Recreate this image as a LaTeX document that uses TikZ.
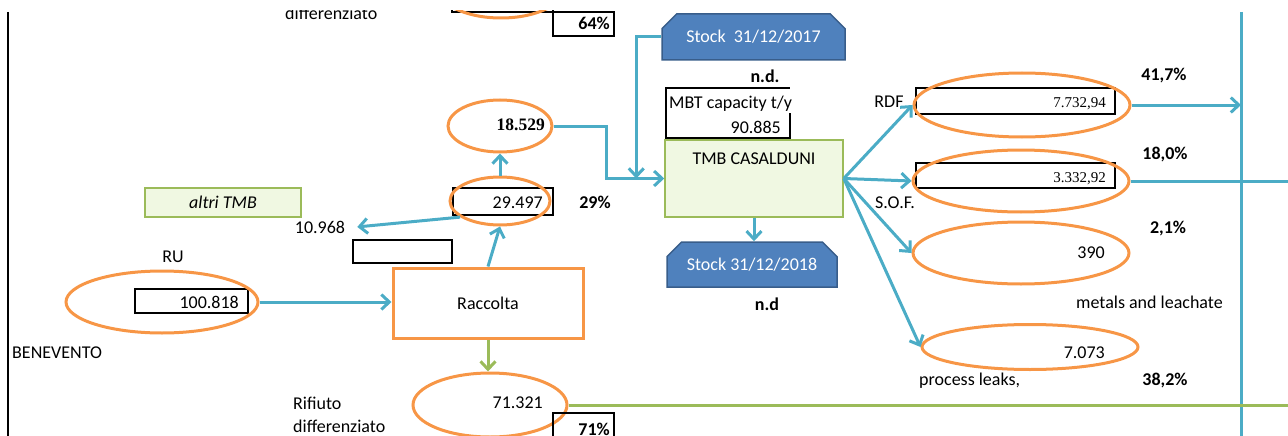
\documentclass[tikz,border=0pt]{standalone}
\usepackage{fontspec}
\setmainfont{Carlito}
\newfontfamily\numfont{Liberation Serif}
\usepackage{tikz}
\usetikzlibrary{shapes.geometric,shapes.misc,arrows.meta,positioning}
\definecolor{flowblue}{HTML}{4BACC6}
\definecolor{ovalorange}{HTML}{F79646}
\definecolor{flowgreen}{HTML}{9BBB59}
\definecolor{stockfill}{HTML}{4F81BD}
\definecolor{stockedge}{HTML}{385D8A}
\definecolor{tmbfill}{HTML}{F0F8E2}
\begin{document}
\begin{tikzpicture}[x=1pt,y=-1pt,font=\fontsize{18}{22}\selectfont,
  every node/.style={inner sep=0pt},
  flow/.style={draw=flowblue,line width=3pt,-{Straight Barb[length=8pt,width=15pt]}},
  greenflow/.style={draw=flowgreen,line width=3pt,-{Straight Barb[length=8pt,width=15pt]}},
  oval/.style={ellipse,draw=ovalorange,line width=3pt},
  valbox/.style={rectangle,draw=black,line width=2pt},
  stock/.style={chamfered rectangle,chamfered rectangle corners={north west,north east},
    chamfered rectangle xsep=8pt,chamfered rectangle ysep=8pt,
    draw=stockedge,line width=1.5pt,fill=stockfill,text=white},
  tmbbox/.style={rectangle,draw=flowgreen,line width=1.5pt,fill=tmbfill},
  racc/.style={rectangle,draw=ovalorange,line width=3pt,fill=white},
  pct/.style={font=\fontsize{18}{22}\selectfont\bfseries},
  numstyle/.style={font=\numfont\fontsize{15}{18}\selectfont}]
\useasboundingbox (0,0) rectangle (1288,436);
\clip (0,11) rectangle (1288,436);
\draw[line width=2.5pt] (8,12) -- (8,440);
\node[valbox,minimum width=101pt,minimum height=26pt] (topbox) at (502.5,-1) {};
\node[oval,minimum width=130pt,minimum height=64pt] (topoval) at (501,-14) {};
\node[valbox,minimum width=61pt,minimum height=24pt] (pcttopbox) at (583.5,24) {};
\node[pct,anchor=base east] (pcttop) at (610,30) {64\%};
\node[anchor=base west] (difftop) at (285,20) {differenziato};
\node[stock,minimum width=183pt,minimum height=46pt] (stock17) at (753.5,37) {Stock~ 31/12/2017};
\node[pct,anchor=base] (nd17) at (765,83) {n.d.};
\node[anchor=base west] (mbt) at (669,108) {MBT capacity t/y};
\node[anchor=base east] (mbtval) at (781,133) {90.885};
\draw[line width=2pt] (790,113) -- (790,138) -- (666,138) -- (666,88) -- (790,88);
\node[tmbbox,minimum width=178pt,minimum height=77pt] (tmb) at (754,178.5) {};
\node[below=13pt of tmb.north] (tmbtext) {TMB CASALDUNI};
\node[stock,minimum width=170pt,minimum height=45pt] (stock18) at (752,264.5) {Stock 31/12/2018};
\node[pct,anchor=base] (nd18) at (767,310) {n.d};
\node[valbox,minimum width=113pt,minimum height=24pt] (rubox) at (191.5,301) {};
\node[oval,minimum width=192pt,minimum height=62pt] (ru) at (162,302) {};
\node[anchor=base east] (ruval) at (239,308) {100.818};
\node[anchor=base] (rulabel) at (173,262) {RU};
\node[anchor=base west] (bn) at (12,358) {BENEVENTO};
\node[tmbbox,minimum width=156pt,minimum height=29pt] (altri) at (223,202.5) {\itshape altri TMB};
\node[anchor=base] (n10968) at (320,233) {10.968};
\node[valbox,minimum width=99pt,minimum height=23pt] (emptybox) at (402.5,251.5) {};
\node[racc,minimum width=190pt,minimum height=70pt] (raccolta) at (488,303) {Raccolta};
\node[valbox,minimum width=100pt,minimum height=27pt] (box29) at (503,201.5) {};
\node[oval,minimum width=100pt,minimum height=48pt] (e29) at (500,201) {};
\node[anchor=base east] (v29) at (543,208) {29.497};
\node[pct,anchor=base] (p29) at (595,208) {29\%};
\node[oval,minimum width=104pt,minimum height=52pt] (e18) at (500,126) {};
\node[anchor=base east,font=\numfont\bfseries\fontsize{17.5}{20}\selectfont] (v18) at (545,130) {18.529};
\node[oval,minimum width=154pt,minimum height=64pt] (e71) at (490,405) {};
\node[anchor=base east] (v71) at (543,408) {71.321};
\node[valbox,minimum width=61pt,minimum height=32pt] (box71) at (583.5,429) {};
\node[pct,anchor=base east] (p71) at (610,435) {71\%};
\node[anchor=base west] (rif) at (293,409) {Rifiuto};
\node[anchor=base west] (diff) at (293,432) {differenziato};
\node[valbox,minimum width=199pt,minimum height=26pt] (rdfbox) at (1015.5,101) {};
\node[oval,minimum width=216pt,minimum height=64pt] (rdf) at (1022,105) {};
\node[numstyle,anchor=base east] (vrdf) at (1106,107) {7.732,94};
\node[anchor=base] (lrdf) at (889,107) {RDF};
\node[pct,anchor=base] (prdf) at (1164,81) {41,7\%};
\node[valbox,minimum width=199pt,minimum height=25pt] (sofbox) at (1015.5,175.5) {};
\node[oval,minimum width=216pt,minimum height=62pt] (sof) at (1021,181) {};
\node[numstyle,anchor=base east] (vsof) at (1106,182) {3.332,92};
\node[anchor=base] (lsof) at (895,208) {S.O.F.};
\node[pct,anchor=base] (psof) at (1165,159) {18,0\%};
\node[oval,minimum width=216pt,minimum height=62pt] (met) at (1021,253) {};
\node[anchor=base east] (vmet) at (1105,258) {390};
\node[pct,anchor=base] (pmet) at (1168,233) {2,1\%};
\node[anchor=base west] (lmet) at (1076,308) {metals and leachate};
\node[oval,minimum width=216pt,minimum height=45pt] (leak) at (1030,347) {};
\node[anchor=base east] (vleak) at (1105,358) {7.073};
\node[anchor=base west] (lleak) at (919,385) {process leaks,};
\node[pct,anchor=base] (pleak) at (1165,385) {38,2\%};
\coordinate (vtop) at (1241,12);
\coordinate (vbot) at (1241,440);
\coordinate (sofend) at (1292,181);
\coordinate (greenend) at (1292,405);
\draw[flowblue,line width=3pt] (vtop) -- (vbot);
\draw[flow] (ru.east) -- (ru.east -| raccolta.west);
\draw[flow] (raccolta.north) -- (e29.south);
\draw[flow] (e29.north) -- (e18.south);
\draw[flow] (e29.202) -- ([xshift=12pt]n10968.east);
\draw[flow] (e18.east) -| ([xshift=-58pt]tmb.west) -- (tmb.west);
\draw[flow] (stock17.west) -| ([xshift=-28pt]tmb.west);
\draw[flow] (tmb.south) -- (tmb.south |- stock18.north);
\draw[flow] (tmb.east) -- (rdf.west);
\draw[flow] (tmb.east) -- (sof.west);
\draw[flow] (tmb.east) -- (met.west);
\draw[flow] (tmb.east) -- (leak.west);
\draw[flow] (rdf.east) -- (rdf.east -| vtop);
\draw[flowblue,line width=3pt] (sof.east) -- (sofend);
\draw[greenflow] (raccolta.south) -- (raccolta.south |- e71.north);
\draw[flowgreen,line width=3pt] (e71.east) -- (greenend);
\end{tikzpicture}
\end{document}
